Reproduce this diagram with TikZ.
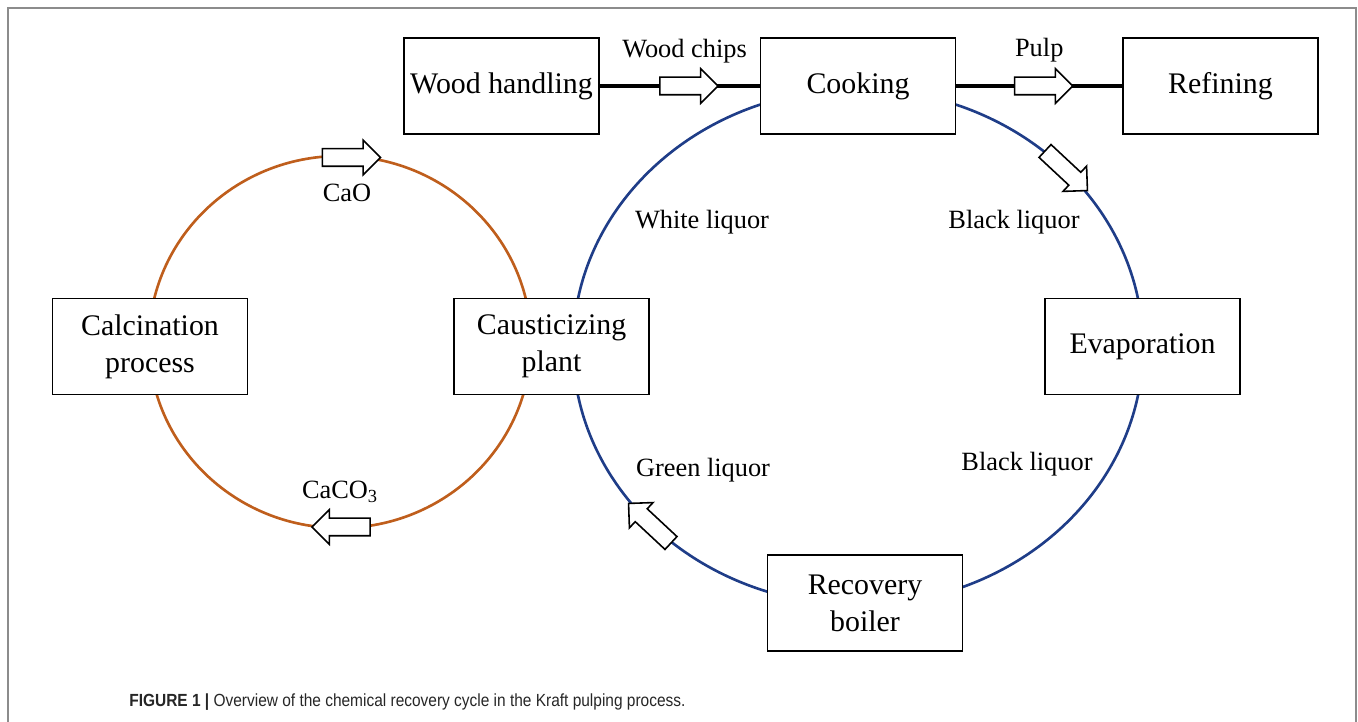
\documentclass[tikz,border=0pt]{standalone}
\usepackage{fontspec}
\setmainfont{Liberation Serif}
\newfontfamily\captionfont[FakeStretch=0.88]{Liberation Sans}
\usepackage{tikz}
\usetikzlibrary{shapes.arrows, positioning, calc}

\definecolor{limeline}{HTML}{BF5E1C}
\definecolor{liquorline}{HTML}{1F3D88}
\definecolor{framegray}{HTML}{8C8C8C}

\begin{document}
\begin{tikzpicture}[
            unit/.style={draw, line width=1pt, fill=white, minimum width=3.9cm, minimum height=1.92cm, align=center, font=\fontsize{17}{21}\selectfont},
            tag/.style={font=\fontsize{15}{18}\selectfont},
            feed/.style={single arrow, draw, fill=white, line width=0.9pt, inner xsep=0pt, inner ysep=0.16cm,
                single arrow head extend=0.17cm, minimum height=1.16cm},
            link/.style={line width=1.9pt},
            cycle/.style={line width=1.5pt}]

            \useasboundingbox (0,0) rectangle (27.16,14.44);

            % Figure frame
            \draw[framegray, line width=0.8pt] (0.16,0) |- (27.12,14.28) -- (27.12,0);

            % Centres of the two loops
            \coordinate (liquor) at (17.16,7.5);
            \coordinate (lime) at (6.8,7.6);

            % Loops
            \draw[cycle, liquorline] (liquor) ellipse [x radius=5.7cm, y radius=5.16cm];
            \draw[cycle, limeline] (lime) ellipse [x radius=3.82cm, y radius=3.72cm];

            % Process units
            \node[unit] (wood) at (10.03,12.72) {Wood handling};
            \node[unit] (cook) at (17.16,12.72) {Cooking};
            \node[unit] (refine) at (24.41,12.72) {Refining};
            \node[unit] (calc) at (3.0,7.51) {Calcination\\process};
            \node[unit] (caust) at (11.03,7.51) {Causticizing\\plant};
            \node[unit] (evap) at (22.85,7.51) {Evaporation};
            \node[unit] (boiler) at (17.3,2.38) {Recovery\\boiler};

            % Fibre line
            \draw[link] (wood) -- node[feed, pos=0.53] (chipsarrow) {} (cook);
            \draw[link] (cook) -- node[feed, pos=0.5] (pulparrow) {} (refine);
            \node[tag, above=0.14cm of chipsarrow] (chips) {Wood chips};
            \node[tag, above=0.16cm of pulparrow] (pulp) {Pulp};

            % Flow arrows on the loops
            \node[feed] (caoarrow) at (6.94,11.29) {};
            \node[feed, rotate=180] (caco3arrow) at (6.91,3.9) {};
            \node[feed, rotate=-43] (blackarrow) at ($(liquor)+(44:5.7cm and 5.16cm)$) {};
            \node[feed, rotate=137] (greenarrow) at ($(liquor)+(224:5.7cm and 5.16cm)$) {};

            % Stream labels
            \node[tag] (cao) at (6.94,10.58) {CaO};
            \node[tag] (caco3) at (6.8,4.6) {CaCO\textsubscript{3}};
            \node[tag] (white) at (14.04,10.0) {White liquor};
            \node[tag] (black1) at (20.28,10.0) {Black liquor};
            \node[tag] (black2) at (20.54,5.16) {Black liquor};
            \node[tag] (green) at (14.06,5.04) {Green liquor};

            % Caption
            \node[anchor=base west, inner sep=0pt, text=black!85, font=\captionfont\fontsize{10}{12}\selectfont] (caption) at (2.58,0.3)
                {\textbf{FIGURE 1 |} Overview of the chemical recovery cycle in the Kraft pulping process.};
        \end{tikzpicture}
\end{document}
